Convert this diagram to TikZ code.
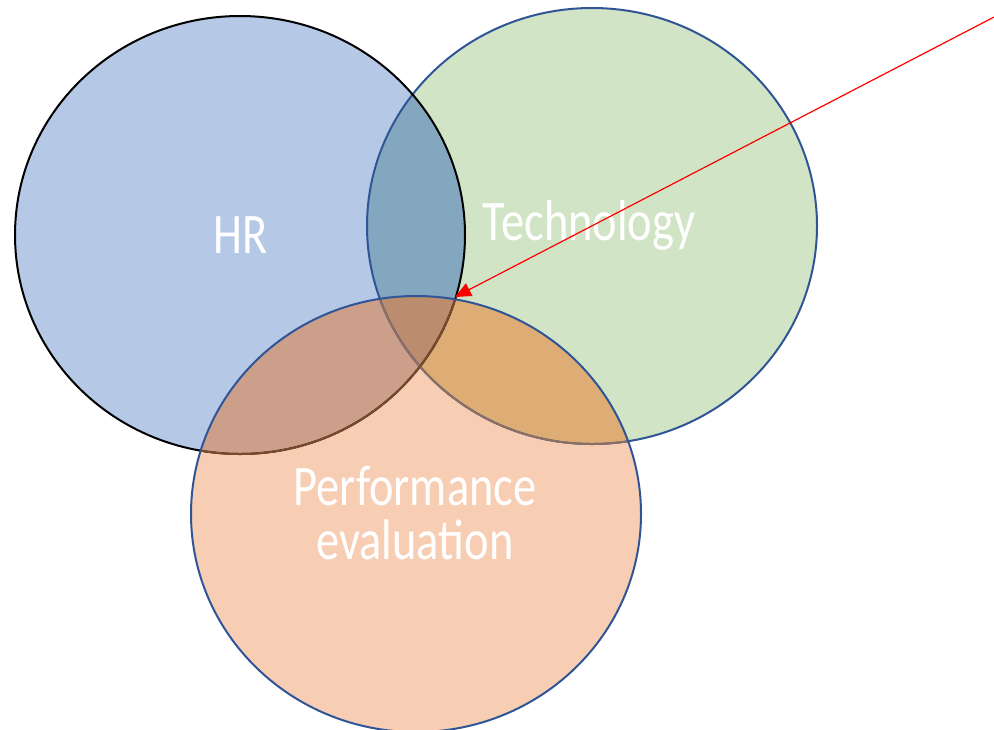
\documentclass[tikz,border=0pt]{standalone}
\usepackage{fontspec}
\setmainfont[FakeStretch=0.81]{Carlito}
\usetikzlibrary{arrows.meta}
\definecolor{hrc}{HTML}{B5C8E6}
\definecolor{techc}{HTML}{D2E4C6}
\definecolor{perfc}{HTML}{F7CEB4}
\definecolor{htc}{HTML}{84A7C0}
\definecolor{hpc}{HTML}{CC9F8A}
\definecolor{tpc}{HTML}{DDAD75}
\definecolor{allc}{HTML}{BB8D6E}
\definecolor{edgeblue}{HTML}{2F5597}
\definecolor{hrbrown}{HTML}{7B4A2B}
\definecolor{techbrown}{HTML}{8C6F62}
\tikzset{
  lbl/.style={text=white, font=\fontsize{43}{41}\selectfont, align=center, inner sep=0pt},
  arr/.style={red, line width=0.9pt, -{Triangle[length=12pt,width=10.5pt]}},
}
\def\HRc{(240,235) ellipse [x radius=168.75pt, y radius=164.25pt]}
\def\TEc{(592,226) ellipse [x radius=168.75pt, y radius=163.5pt]}
\def\PEc{(416,514) ellipse [x radius=168.75pt, y radius=163.5pt]}
\begin{document}
\begin{tikzpicture}[x=0.75pt, y=-0.75pt]
\useasboundingbox (0,0) rectangle (994,729);
% fills
\fill[hrc] \HRc;
\fill[techc] \TEc;
\begin{scope}\clip \HRc; \fill[htc] \TEc; \end{scope}
\fill[perfc] \PEc;
\begin{scope}\clip \PEc; \fill[hpc] \HRc; \end{scope}
\begin{scope}\clip \PEc; \fill[tpc] \TEc; \end{scope}
\begin{scope}\clip \PEc; \clip \HRc; \fill[allc] \TEc; \end{scope}
% outlines
\draw[edgeblue, line width=1.5pt] \TEc;
\draw[black, line width=1.5pt] \HRc;
\begin{scope}\clip \PEc;
  \draw[techbrown, line width=1.5pt] \TEc;
  \draw[hrbrown, line width=1.5pt] \HRc;
\end{scope}
\draw[edgeblue, line width=1.5pt] \PEc;
% labels
\node[lbl] (hr) at (241,235) {HR};
\node[lbl] (tech) at (589,226) {Technology};
\node[lbl] (perf) at (415,513) {Performance\\evaluation};
% arrow
\coordinate (start) at (996,16);
\coordinate (tip) at (455,297);
\draw[arr] (start) -- (tip);
\end{tikzpicture}
\end{document}
